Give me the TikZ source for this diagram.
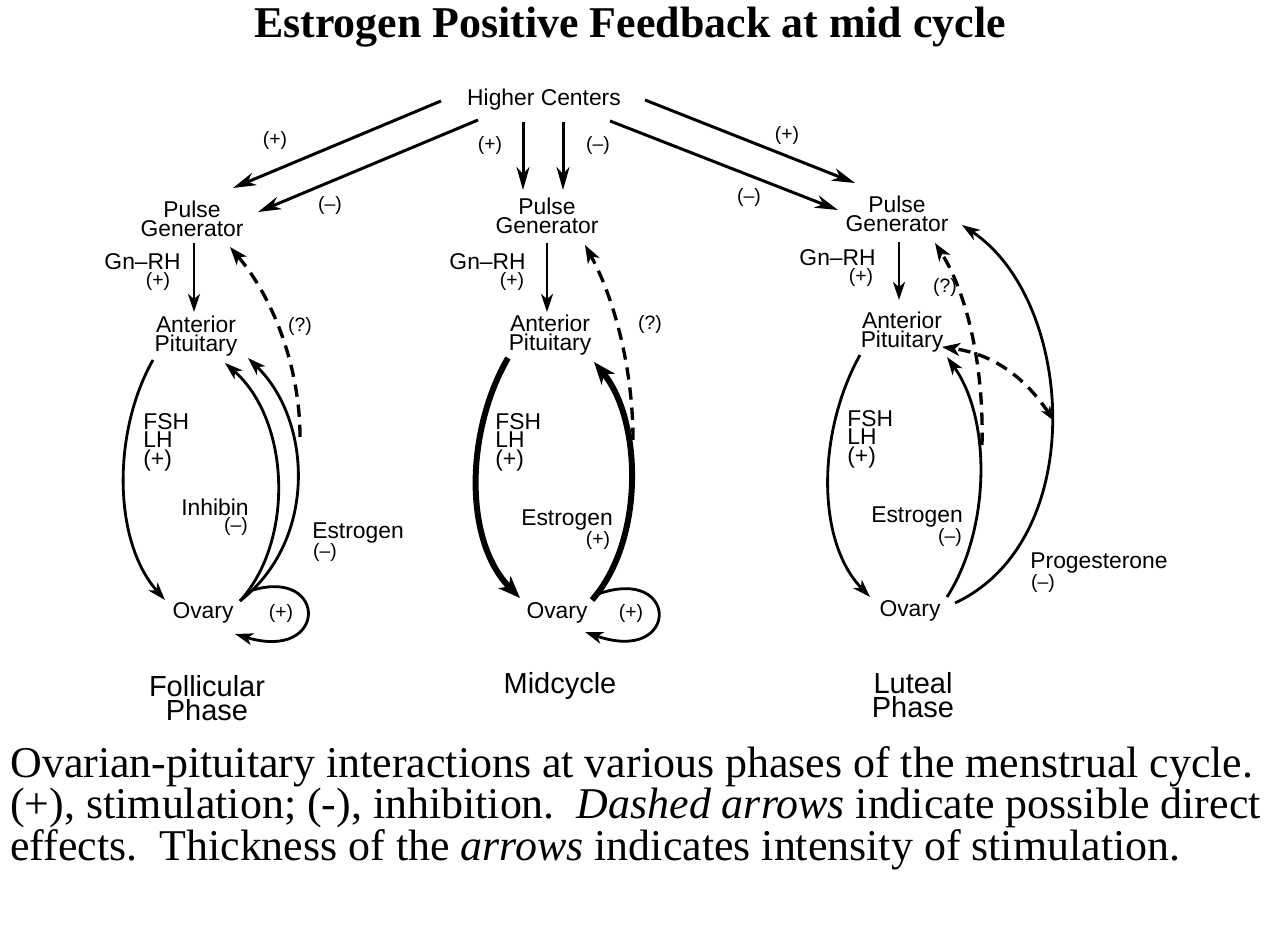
\documentclass[tikz,border=0pt]{standalone}
\usepackage{fontspec}
\setmainfont{Liberation Serif}
\newfontfamily\dfont{Liberation Sans}
\usetikzlibrary{arrows.meta}
\begin{document}
\begin{tikzpicture}[x=0.02cm,y=-0.02cm,
  lbl/.style={font=\dfont\fontsize{13}{10.5}\selectfont, inner sep=0pt, align=center},
  lft/.style={font=\dfont\fontsize{13}{10.5}\selectfont, inner sep=0pt, align=left, anchor=west},
  sgn/.style={font=\dfont\fontsize{11}{11}\selectfont, inner sep=0pt},
  phs/.style={font=\dfont\fontsize{16.5}{13.8}\selectfont, inner sep=0pt, align=center},
  ttl/.style={font=\fontsize{25}{30}\selectfont\bfseries, inner sep=0pt, anchor=base},
  captxt/.style={font=\fontsize{25}{30}\selectfont, inner sep=0pt, anchor=base west},
  ar/.style={line width=1.6pt, -{Stealth[length=0.36cm,width=0.24cm,inset=0.1cm]}},
  bigar/.style={line width=1.7pt, -{Stealth[length=0.46cm,width=0.26cm,inset=0.14cm]}},
  thk/.style={line width=3.4pt, -{Stealth[length=0.44cm,width=0.34cm,inset=0.12cm]}},
  dsh/.style={line width=1.9pt, dash pattern=on 7pt off 4.5pt, -{Stealth[length=0.36cm,width=0.26cm,inset=0.1cm]}},
  dshb/.style={dsh, {Stealth[length=0.3cm,width=0.2cm,inset=0.08cm]}-{Stealth[length=0.36cm,width=0.26cm,inset=0.1cm]}},
]
\fill[white] (0,0) rectangle (1281,925);
\useasboundingbox (0,0) rectangle (1281,925);

% title and caption
\node[ttl] (title) at (630,38) {Estrogen Positive Feedback at mid cycle};
\node[captxt] (cap1) at (10,777) {Ovarian-pituitary interactions at various phases of the menstrual cycle.};
\node[captxt] (cap2) at (10,818) {(+), stimulation; (-), inhibition.\ \ \textit{Dashed arrows} indicate possible direct};
\node[captxt] (cap3) at (10,860) {effects.\ \ Thickness of the \textit{arrows} indicates intensity of stimulation.};

% main nodes
\node[lbl] (hc) at (544,100) {Higher Centers};
\node[lbl] (pg1) at (192,219) {Pulse\\Generator};
\node[lbl] (pg2) at (547,216) {Pulse\\Generator};
\node[lbl] (pg3) at (897,214) {Pulse\\Generator};
\node[lbl] (ap1) at (196,336) {Anterior\\Pituitary};
\node[lbl] (ap2) at (550,335) {Anterior\\Pituitary};
\node[lbl] (ap3) at (902,332) {Anterior\\Pituitary};
\node[lbl] (ov1) at (203,613) {Ovary};
\node[lbl] (ov2) at (557,613) {Ovary};
\node[lbl] (ov3) at (910,611) {Ovary};
\node[phs] (ph1) at (207,698) {Follicular\\Phase};
\node[phs] (ph2) at (560,686) {Midcycle};
\node[phs] (ph3) at (913,695) {Luteal\\Phase};

% signs near higher centers arrows
\node[sgn] (s1) at (275,141) {(+)};
\node[sgn] (s2) at (330,206) {(–)};
\node[sgn] (s3) at (490,146) {(+)};
\node[sgn] (s4) at (598,146) {(–)};
\node[sgn] (s5) at (787,136) {(+)};
\node[sgn] (s6) at (749,198) {(–)};

% Gn-RH labels
\node[lbl, anchor=east] (g1) at (181,262) {Gn–RH};
\node[sgn] (g1s) at (158,282) {(+)};
\node[lbl, anchor=east] (g2) at (526,262) {Gn–RH};
\node[sgn] (g2s) at (512,282) {(+)};
\node[lbl, anchor=east] (g3) at (876,258) {Gn–RH};
\node[sgn] (g3s) at (861,278) {(+)};

% FSH LH labels
\node[lft] (f1) at (143,442) {FSH\\LH\\(+)};
\node[lft] (f2) at (495,442) {FSH\\LH\\(+)};
\node[lft] (f3) at (847,439) {FSH\\LH\\(+)};

% other labels
\node[sgn] (q1) at (300,327) {(?)};
\node[sgn] (q2) at (650,325) {(?)};
\node[sgn] (q3) at (945,288) {(?)};
\node[lbl] (inh) at (215,507) {Inhibin};
\node[sgn] (inhs) at (236,526) {(–)};
\node[lbl] (e1) at (358,533) {Estrogen};
\node[sgn] (e1s) at (325,552) {(–)};
\node[lbl] (e2) at (567,520) {Estrogen};
\node[sgn] (e2s) at (598,540) {(+)};
\node[lbl] (e3) at (917,517) {Estrogen};
\node[sgn] (e3s) at (950,537) {(–)};
\node[lbl] (pr) at (1099,563) {Progesterone};
\node[sgn] (prs) at (1043,583) {(–)};
\node[sgn] (l1) at (281,613) {(+)};
\node[sgn] (l2) at (631,613) {(+)};

% coordinates for connector ends
\coordinate (hcL1) at (441,101);  \coordinate (pgL1) at (233,188);
\coordinate (hcL2) at (478,120);  \coordinate (pgL2) at (258,212);
\coordinate (hcM1) at (523,122);  \coordinate (pgM1) at (523,190);
\coordinate (hcM2) at (563,122);  \coordinate (pgM2) at (563,190);
\coordinate (hcR1) at (645,100);  \coordinate (pgR1) at (855,183);
\coordinate (hcR2) at (610,121);  \coordinate (pgR2) at (838,210);

\draw[bigar] (hcL1) -- (pgL1);
\draw[bigar] (hcL2) -- (pgL2);
\draw[bigar] (hcM1) -- (pgM1);
\draw[bigar] (hcM2) -- (pgM2);
\draw[bigar] (hcR1) -- (pgR1);
\draw[bigar] (hcR2) -- (pgR2);

% ---- left panel
\coordinate (gL0) at (194,243); \coordinate (gL1) at (194,312);
\draw[ar] (gL0) -- (gL1);
\coordinate (dL0) at (300,437); \coordinate (dL1) at (230,247);
\draw[dsh] (dL0) .. controls (300,370) and (275,300) .. (dL1);
\coordinate (fL0) at (153,360); \coordinate (fL1) at (165,600);
\draw[ar] (fL0) .. controls (113,430) and (112,540) .. (fL1);
\coordinate (oL) at (240,601);
\coordinate (iL1) at (225,363);
\draw[ar] (oL) .. controls (295,540) and (290,420) .. (iL1);
\coordinate (eL1) at (248,358);
\draw[ar] (oL) .. controls (318,540) and (312,420) .. (eL1);
\coordinate (lpL0) at (253,590); \coordinate (lpL1) at (235,634);
\draw[ar] (lpL0) .. controls (328,568) and (328,662) .. (lpL1);

% ---- middle panel
\coordinate (gM0) at (547,243); \coordinate (gM1) at (547,312);
\draw[ar] (gM0) -- (gM1);
\coordinate (dM0) at (633,440); \coordinate (dM1) at (585,245);
\draw[dsh] (dM0) .. controls (633,370) and (615,300) .. (dM1);
\coordinate (fM0) at (508,358); \coordinate (fM1) at (520,598);
\draw[thk] (fM0) .. controls (466,430) and (463,540) .. (fM1);
\coordinate (eM0) at (592,600); \coordinate (eM1) at (594,362);
\draw[thk] (eM0) .. controls (645,540) and (642,420) .. (eM1);
\coordinate (lpM0) at (598,594); \coordinate (lpM1) at (585,632);
\draw[ar] (lpM0) .. controls (680,565) and (680,665) .. (lpM1);

% ---- right panel
\coordinate (gR0) at (899,242); \coordinate (gR1) at (899,300);
\draw[ar] (gR0) -- (gR1);
\coordinate (dR0) at (982,445); \coordinate (dR1) at (935,243);
\draw[dsh] (dR0) .. controls (984,360) and (965,290) .. (dR1);
\coordinate (fR0) at (860,355); \coordinate (fR1) at (870,597);
\draw[ar] (fR0) .. controls (818,430) and (815,540) .. (fR1);
\coordinate (eR0) at (947,597); \coordinate (eR1) at (947,357);
\draw[ar] (eR0) .. controls (990,530) and (992,420) .. (eR1);
\coordinate (pR0) at (955,603); \coordinate (pR1) at (962,225);
\draw[ar] (pR0) .. controls (1090,540) and (1075,300) .. (pR1);
\coordinate (bR0) at (1054,421); \coordinate (bR1) at (942,347);
\draw[dshb] (bR0) .. controls (1030,385) and (1000,355) .. (bR1);
\end{tikzpicture}
\end{document}
